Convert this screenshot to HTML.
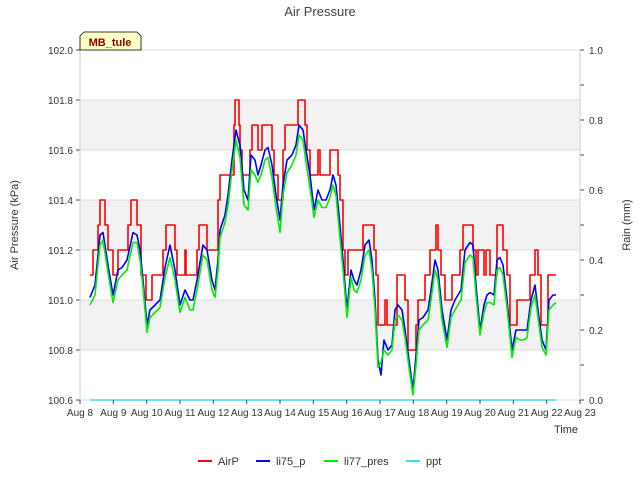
<!DOCTYPE html>
<html><head><meta charset="utf-8"><style>
body{margin:0;background:#fff}
svg{display:block;font-family:"Liberation Sans","DejaVu Sans",sans-serif}
</style></head><body>
<svg id="c" width="640" height="480">
<rect x="0" y="0" width="640" height="480" fill="#fff"/>
<g id="bands"></g>
<g id="grid"></g>
<g id="series"></g>
<g id="axes"></g>
<text x="320" y="16" text-anchor="middle" font-size="13" fill="#444">Air Pressure</text>
<text x="18" y="225" text-anchor="middle" font-size="11" fill="#333" transform="rotate(-90 18 225)">Air Pressure (kPa)</text>
<text x="630" y="225" text-anchor="middle" font-size="11" fill="#333" transform="rotate(-90 630 225)">Rain (mm)</text>
<text x="578" y="433" text-anchor="end" font-size="11" fill="#333">Time</text>
<g>
<path d="M80,50 L80,36 L84,32 L137,32 L141,36 L141,50 Z" fill="#ffffc8" stroke="#000" stroke-width="0.8"/>
<text x="110" y="46" text-anchor="middle" font-size="11" font-weight="bold" fill="#8b0000">MB_tule</text>
</g>
<g id="legend" font-size="11" fill="#333"></g>
</svg>
<script>
const NS='http://www.w3.org/2000/svg';
const li75T=[0.30,0.45,0.60,0.69,0.84,0.99,1.14,1.26,1.41,1.59,1.71,1.80,1.89,2.01,2.10,2.25,2.40,2.55,2.70,2.85,3.00,3.15,3.30,3.39,3.51,3.69,3.81,3.96,4.05,4.14,4.20,4.35,4.44,4.56,4.68,4.80,4.92,5.04,5.13,5.25,5.34,5.43,5.55,5.64,5.76,5.88,6.00,6.09,6.21,6.36,6.48,6.57,6.69,6.78,6.90,7.02,7.14,7.26,7.38,7.50,7.59,7.68,7.77,7.89,8.01,8.13,8.22,8.31,8.43,8.55,8.67,8.76,8.85,8.94,9.03,9.12,9.24,9.36,9.45,9.54,9.66,9.75,9.87,9.99,10.08,10.17,10.29,10.44,10.53,10.65,10.74,10.86,11.01,11.13,11.25,11.34,11.43,11.55,11.70,11.79,11.88,12.00,12.12,12.21,12.30,12.42,12.51,12.60,12.69,12.81,12.96,13.08,13.20,13.32,13.41,13.53,13.65,13.74,13.86,13.98,14.07,14.19,14.28];
const li75V=[101.01,101.06,101.26,101.27,101.14,101.02,101.12,101.13,101.16,101.27,101.26,101.20,101.08,100.90,100.96,100.98,101.00,101.13,101.22,101.12,100.98,101.04,101.00,101.00,101.08,101.22,101.20,101.08,101.04,101.16,101.28,101.34,101.42,101.56,101.68,101.62,101.44,101.40,101.58,101.56,101.50,101.54,101.60,101.61,101.54,101.42,101.32,101.46,101.56,101.58,101.62,101.70,101.68,101.60,101.50,101.36,101.44,101.40,101.40,101.44,101.50,101.46,101.34,101.16,100.96,101.12,101.08,101.06,101.12,101.22,101.24,101.16,101.00,100.76,100.70,100.84,100.80,100.82,100.96,100.98,100.96,100.88,100.76,100.64,100.78,100.92,100.93,100.96,101.04,101.16,101.12,100.96,100.84,100.96,101.00,101.02,101.04,101.20,101.23,101.22,101.06,100.88,100.98,101.02,101.03,101.02,101.16,101.17,101.14,101.00,100.80,100.88,100.88,100.88,100.88,101.00,101.06,100.96,100.84,100.80,101.00,101.02,101.02];
const li77V=[100.98,101.02,101.22,101.24,101.11,100.99,101.08,101.10,101.12,101.23,101.23,101.16,101.05,100.87,100.93,100.95,100.97,101.09,101.17,101.08,100.95,101.01,100.96,100.96,101.04,101.18,101.16,101.04,101.01,101.12,101.25,101.31,101.38,101.52,101.64,101.57,101.38,101.36,101.52,101.50,101.47,101.50,101.56,101.57,101.49,101.37,101.27,101.42,101.51,101.54,101.58,101.66,101.64,101.55,101.45,101.33,101.40,101.37,101.37,101.41,101.46,101.42,101.29,101.12,100.93,101.09,101.04,101.03,101.08,101.18,101.20,101.12,100.96,100.73,100.75,100.80,100.78,100.80,100.92,100.94,100.92,100.85,100.73,100.62,100.74,100.88,100.90,100.92,101.00,101.12,101.08,100.92,100.81,100.93,100.96,100.98,101.00,101.15,101.18,101.17,101.02,100.86,100.95,100.99,100.99,100.98,101.12,101.13,101.10,100.97,100.77,100.85,100.84,100.84,100.85,100.97,101.02,100.93,100.81,100.78,100.96,100.98,100.99];
const airT=[0.30,0.39,0.54,0.60,0.75,0.84,0.99,1.14,1.44,1.53,1.71,1.83,1.98,2.16,2.49,2.58,2.64,2.85,2.91,3.15,3.18,3.24,3.51,3.57,3.81,4.14,4.20,4.26,4.62,4.65,4.77,4.80,4.86,5.10,5.16,5.34,5.46,5.76,5.82,5.94,6.09,6.15,6.27,6.54,6.75,6.81,6.90,7.14,7.20,7.50,7.74,7.80,7.89,7.95,8.04,8.49,8.82,8.88,8.94,9.15,9.21,9.51,9.75,9.84,10.08,10.14,10.35,10.50,10.68,10.74,10.83,10.95,11.16,11.40,11.49,11.79,11.88,11.94,12.12,12.18,12.30,12.51,12.69,12.81,12.90,13.11,13.50,13.65,13.74,13.83,14.04,14.28];
const airV=[101.1,101.2,101.3,101.4,101.3,101.2,101.1,101.2,101.3,101.4,101.3,101.1,101.0,101.1,101.2,101.3,101.3,101.2,101.1,101.2,101.1,101.1,101.2,101.3,101.2,101.4,101.5,101.5,101.7,101.8,101.7,101.6,101.5,101.6,101.7,101.6,101.7,101.6,101.5,101.4,101.6,101.7,101.7,101.8,101.7,101.6,101.5,101.6,101.5,101.6,101.5,101.4,101.2,101.1,101.2,101.3,101.2,101.1,100.9,101.0,100.9,101.1,101.0,100.8,100.9,101.0,101.1,101.2,101.3,101.2,101.1,101.0,101.1,101.2,101.3,101.2,101.1,101.2,101.1,101.2,101.1,101.3,101.2,101.1,100.9,101.0,101.1,101.2,101.1,100.9,101.1,101.1];
const pptT=[0.30,14.28];
const pptV=[0,0];
const yTicks=[100.6,100.8,101.0,101.2,101.4,101.6,101.8,102.0];
const y2Ticks=[0.0,0.2,0.4,0.6,0.8,1.0];
const xTicks=['Aug 8','Aug 9','Aug 10','Aug 11','Aug 12','Aug 13','Aug 14','Aug 15','Aug 16','Aug 17','Aug 18','Aug 19','Aug 20','Aug 21','Aug 22','Aug 23'];
const L=80,R=580,T=50,B=400;
const xS=d=>L+d*(R-L)/15;
const yS=v=>B-(v-100.6)*(B-T)/1.4;
const y2S=v=>B-v*(B-T)/1.0;
function mk(tag,attrs,parent){const e=document.createElementNS(NS,tag);for(const k in attrs)e.setAttribute(k,attrs[k]);parent.appendChild(e);return e;}
const bands=document.getElementById('bands'),grid=document.getElementById('grid'),ser=document.getElementById('series'),axes=document.getElementById('axes'),leg=document.getElementById('legend');
mk('rect',{x:L,y:T,width:R-L,height:B-T,fill:'#fff'},bands);
for(let i=0;i<yTicks.length-1;i++){ if(i%2===1){const r=mk('rect',{x:L,y:yS(yTicks[i+1]),width:R-L,height:yS(yTicks[i])-yS(yTicks[i+1]),fill:'#f2f2f2'},bands);

}}
yTicks.forEach(v=>{const y=yS(v);
const g=mk('line',{x1:L,x2:R,y1:y,y2:y,stroke:'#dcdcdc','stroke-width':1},grid);


mk('line',{x1:L-4,x2:L,y1:y,y2:y,stroke:'#444'},axes);
const t=mk('text',{x:L-7,y:y+4,'text-anchor':'end','font-size':10,fill:'#333'},axes);t.textContent=v.toFixed(1);

});
y2Ticks.forEach(v=>{const y=y2S(v);
mk('line',{x1:R,x2:R+4,y1:y,y2:y,stroke:'#444'},axes);
const t=mk('text',{x:R+9,y:y+4,'font-size':10,fill:'#333'},axes);t.textContent=v.toFixed(1);


if(v<1){const m=y2S(v+0.1);mk('line',{x1:R,x2:R+4,y1:m,y2:m,stroke:'#444'},axes);}});
xTicks.forEach((s,i)=>{const x=xS(i);
mk('line',{x1:x,x2:x,y1:B,y2:B+4,stroke:'#444'},axes);
const t=mk('text',{x:x,y:B+16,'text-anchor':'middle','font-size':10,fill:'#333'},axes);t.textContent=s;

});
mk('line',{x1:L,x2:L,y1:T,y2:B,stroke:'#ccc'},axes);
mk('line',{x1:R,x2:R,y1:T,y2:B,stroke:'#ccc'},axes);
function line(T_,V_,ys,color,name,step){let d='';for(let i=0;i<T_.length;i++){const x=xS(T_[i]),y=ys(V_[i]);
if(i===0)d='M'+x+','+y;else if(step)d+=' H'+x+' V'+y;else d+=' L'+x+','+y;}
const p=mk('path',{d:d,fill:'none',stroke:color,'stroke-width':1.6,'stroke-linejoin':'round'},ser);

}
line(airT,airV,yS,'#ff0000','airp-line',true);
line(li75T,li75V,yS,'#0000ff','li75-p-line',false);
line(li75T,li77V,yS,'#00ee00','li77-pres-line',false);
line(pptT,pptV,y2S,'#33ddee','ppt-line',false);
const items=[['AirP','#ff0000',198],['li75_p','#0000ff',256],['li77_pres','#00ee00',324],['ppt','#33ddee',406]];
items.forEach(it=>{const g=mk('g',{},leg);


mk('line',{x1:it[2],x2:it[2]+14,y1:461,y2:461,stroke:it[1],'stroke-width':2},g);
const t=mk('text',{x:it[2]+20,y:465,'font-size':11,fill:'#333'},g);t.textContent=it[0];});
</script>
</body></html>
